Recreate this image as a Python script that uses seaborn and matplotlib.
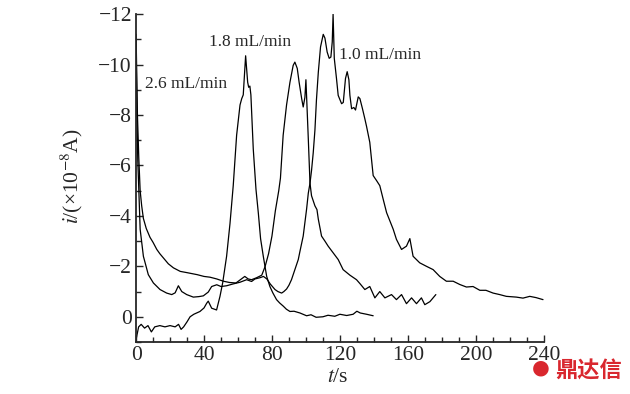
import numpy as np
import pandas as pd
import matplotlib
matplotlib.use("Agg")
import matplotlib.pyplot as plt
import seaborn as sns
from matplotlib.ticker import MultipleLocator

sns.set_style("ticks")
plt.rcParams["font.family"] = ["Liberation Serif", "DejaVu Serif"]
plt.rcParams["mathtext.fontset"] = "stix"

# run with the early peak (~65 s)
t_a = [0, 1.5, 3, 5, 7, 9, 11, 14, 17, 20, 23, 25, 26.5, 28, 30, 31.8, 34, 37.6, 40, 41.6,
       42.5, 44.5, 47.4, 49.4, 51, 53.3, 55.3, 57.2, 59.2, 61.2, 62.2, 63.1, 64.5, 65.7, 66.3,
       67, 67.6, 69, 70.6, 72, 73.3, 74.9, 76.9, 78.8, 80.5, 82.7, 84.5, 86.7, 88.5, 90.6, 93,
       96.5, 100.4, 103, 106, 110, 113, 117, 120, 124, 127.8, 130, 132, 135.7, 139.6]
i_a = [0.9, 0.4, 0.3, 0.45, 0.35, 0.6, 0.4, 0.35, 0.4, 0.35, 0.4, 0.3, 0.5, 0.4, 0.2, 0.0,
       -0.1, -0.21, -0.35, -0.54, -0.62, -0.34, -0.27, -0.81, -1.35, -2.4, -3.7, -5.2, -7.2,
       -8.4, -8.65, -8.8, -10.35, -9.3, -9.1, -9.15, -8.8, -6.65, -5.05, -4.1, -3.1, -2.4, -1.6,
       -1.2, -0.95, -0.68, -0.55, -0.42, -0.3, -0.21, -0.22, -0.15, -0.04, -0.08, 0.02, 0.0,
       -0.06, -0.02, -0.1, -0.05, -0.1, -0.22, -0.15, -0.1, -0.04]

# run with the middle peak (~93 s)
t_b = [0, 0.8, 1.6, 2.4, 3.3, 4.3, 6, 8.2, 10, 12.2, 14, 16, 19, 22, 26, 30, 36, 40, 43.5,
       47.5, 51.4, 55, 58.8, 61, 64, 66, 68, 71, 74, 76, 78, 80, 82, 84, 85, 86.6, 88.6, 90.6,
       92.5, 93.5, 94.9, 96, 97.5, 98.4, 99.4, 100, 100.6, 101.4, 102.4, 103.3, 105.3, 106.5,
       107.3, 109.2, 111.2, 113.1, 116, 119, 121.9, 125.9, 129.8, 132, 134.7, 137.6, 140.6,
       143.5, 146.5, 150.4, 153.3, 156.3, 159.2, 162.2, 165.1, 168, 170, 173, 176.5]
i_b = [-11.2, -8, -6.3, -5.0, -4.4, -3.9, -3.5, -3.15, -2.95, -2.67, -2.5, -2.34, -2.1, -1.94,
       -1.8, -1.75, -1.67, -1.6, -1.57, -1.5, -1.41, -1.36, -1.34, -1.45, -1.6, -1.5, -1.47,
       -1.55, -1.65, -2.0, -2.5, -3.2, -4.2, -5.0, -5.5, -7.2, -8.4, -9.3, -9.97, -10.1, -9.85,
       -9.3, -8.65, -8.32, -8.7, -9.4, -8.4, -7.06, -5.3, -4.8, -4.4, -4.25, -3.87, -3.2, -3.0,
       -2.8, -2.54, -2.27, -1.87, -1.65, -1.47, -1.3, -1.08, -1.2, -0.75, -1.0, -0.75, -0.88,
       -0.68, -0.88, -0.52, -0.75, -0.52, -0.75, -0.48, -0.6, -0.88]

# run with the late peak (~116 s)
t_c = [0, 0.5, 1.0, 1.4, 2.4, 4.3, 7.2, 10.2, 14.1, 18, 21, 23, 24.9, 26.9, 29.8, 33.7, 37,
       39.6, 42.5, 44.5, 47.5, 50, 53.3, 57, 61.2, 65.1, 68, 70, 73, 75, 77, 79, 81.8, 83.5,
       85.7, 87, 88.6, 90, 91.5, 93.5, 95.5, 96.5, 98.4, 100.4, 101.4, 102.4, 103.3, 104.3,
       105.3, 106.2, 107.3, 108.6, 110.2, 111.2, 112.5, 113.7, 114.7, 115.5, 116, 116.7, 118,
       119, 121, 122, 123.3, 124.3, 125.3, 125.9, 126.9, 128.2, 129.2, 130.8, 131.8, 133.3,
       134.7, 135.7, 137.6, 139.6, 141.6, 143.5, 145.5, 147.5, 151.4, 153.3, 156.3, 159.2,
       161.2, 163.1, 167, 171, 174.9, 178.8, 182.7, 186.7, 190.6, 194.5, 198.4, 202.4, 206,
       210.2, 214.1, 218, 223.9, 227.8, 231.8, 235.5, 239.6]
i_c = [-11.0, -8, -6.2, -5.45, -3.47, -2.4, -1.67, -1.34, -1.08, -0.94, -0.88, -0.95, -1.23,
       -1.0, -0.88, -0.78, -0.8, -0.83, -0.98, -1.2, -1.27, -1.2, -1.23, -1.3, -1.37, -1.47,
       -1.4, -1.5, -1.55, -1.6, -1.5, -1.3, -1.08, -1.0, -0.94, -1.0, -1.1, -1.25, -1.47, -1.87,
       -2.27, -2.6, -3.2, -4.27, -4.9, -5.3, -5.8, -6.5, -7.4, -8.6, -9.7, -10.7, -11.2, -11.05,
       -10.5, -10.25, -10.3, -10.9, -12.0, -10.25, -9.45, -8.78, -8.45, -8.5, -9.45, -9.72,
       -9.4, -8.78, -8.25, -8.3, -8.2, -8.72, -8.65, -8.25, -7.85, -7.55, -6.92, -5.6, -5.4,
       -5.2, -4.66, -4.13, -3.47, -3.07, -2.67, -2.8, -3.1, -2.4, -2.14, -2.0, -1.87, -1.6,
       -1.41, -1.41, -1.28, -1.18, -1.2, -1.05, -1.05, -0.94, -0.88, -0.81, -0.78, -0.74,
       -0.81, -0.76, -0.68]

flow_labels = ["2.6 mL/min", "1.8 mL/min", "1.0 mL/min"]
label_t = [5, 43, 119.5]
label_i = [-9.25, -10.9, -10.4]

df = pd.concat([
    pd.DataFrame({"t": t_a, "i": i_a, "run": "a"}),
    pd.DataFrame({"t": t_b, "i": i_b, "run": "b"}),
    pd.DataFrame({"t": t_c, "i": i_c, "run": "c"}),
])

fig = plt.figure(figsize=(6.3, 3.94), dpi=100)
ax = fig.add_axes([0.216, 0.132, 0.647, 0.832])

sns.lineplot(data=df, x="t", y="i", units="run", estimator=None, sort=False,
             color="black", linewidth=0.9, ax=ax)

for lab, x, y in zip(flow_labels, label_t, label_i):
    ax.text(x, y, lab, fontsize=12.5, ha="left", va="center")

ax.set_xlim(0, 240)
ax.set_ylim(1, -12)
ax.xaxis.set_major_locator(MultipleLocator(40))
ax.xaxis.set_minor_locator(MultipleLocator(10))
ax.yaxis.set_minor_locator(MultipleLocator(1))
ax.set_yticks([0, -2, -4, -6, -8, -10, -12])
ax.tick_params(which="both", direction="in", width=1, labelsize=15.5, pad=3)
ax.tick_params(which="major", length=5)
ax.tick_params(which="minor", length=3.5)
sns.despine(ax=ax)
for s in ["left", "bottom"]:
    ax.spines[s].set_linewidth(1.3)

ax.set_xlabel(r"$t$/s", fontsize=15.5)
ax.set_ylabel(r"$i$/(×10$^{-8}$A)", fontsize=15.5)
ax.xaxis.set_label_coords(0.495, -0.08)
ax.yaxis.set_label_coords(-0.125, 0.505)

fig.text(0.859, 0.06, "●", color="#d9272e", fontsize=26, ha="center", va="center")
fig.text(0.935, 0.058, "鼎达信", color="#d9272e", fontsize=16, fontweight="bold",
         ha="center", va="center", family=["Noto Sans CJK SC", "DejaVu Sans"])

fig.savefig("out.png", dpi=100)
